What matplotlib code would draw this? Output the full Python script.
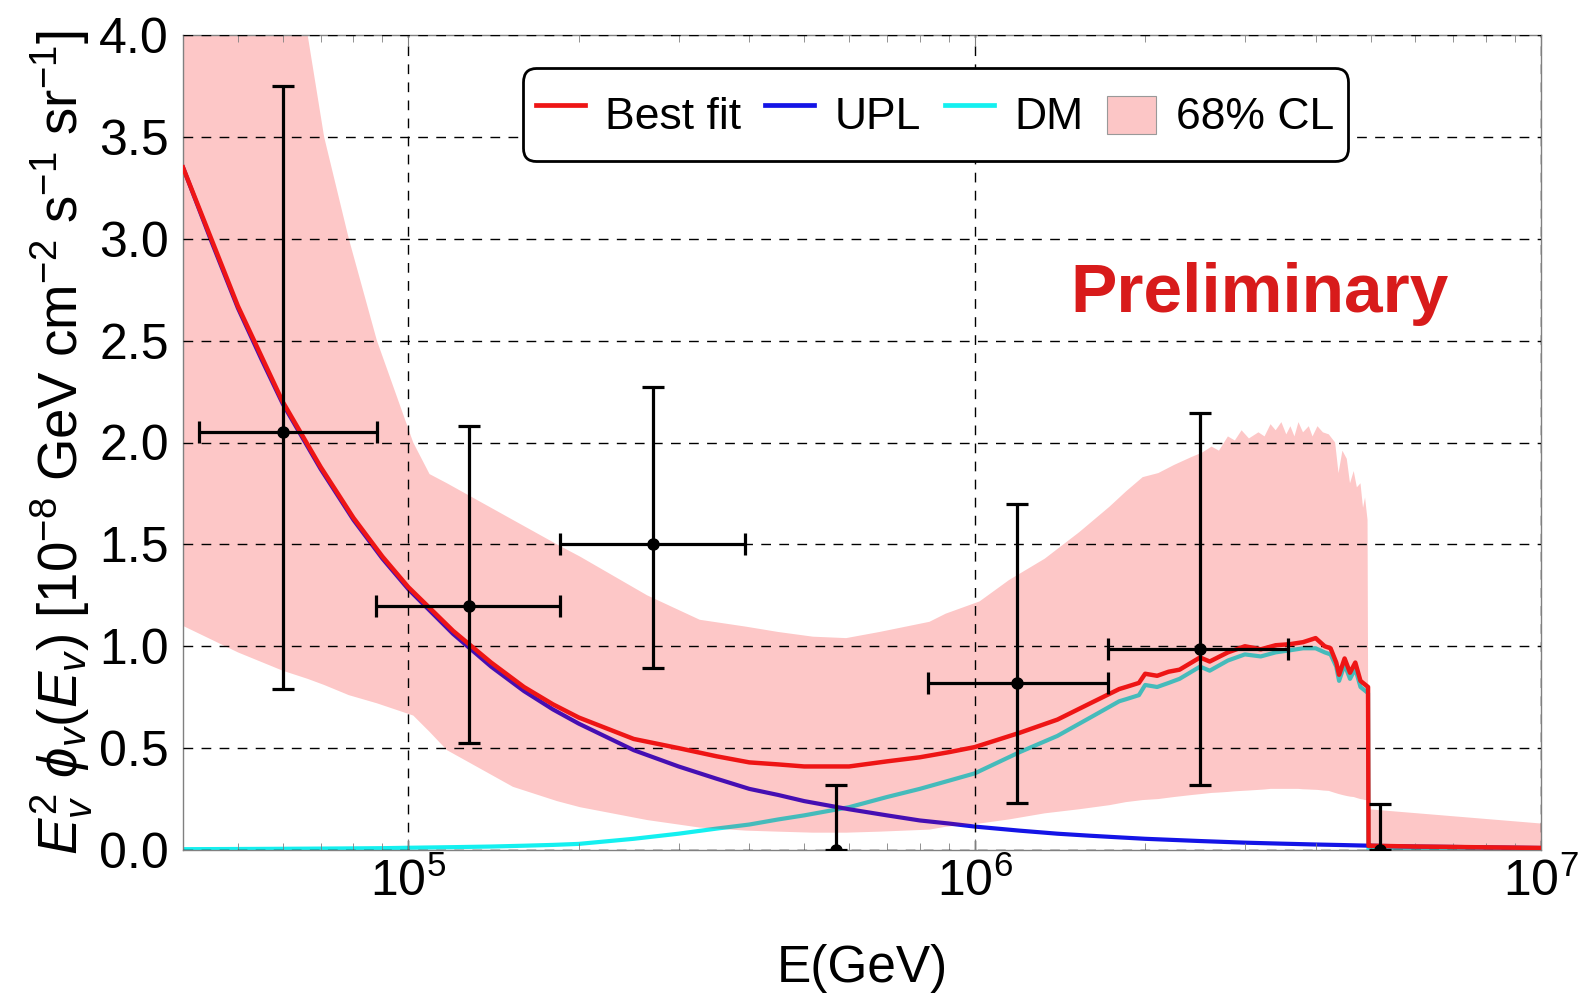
import numpy as np
import matplotlib
matplotlib.use('Agg')
import matplotlib.pyplot as plt
from matplotlib.legend_handler import HandlerPatch
from matplotlib.ticker import FixedLocator, LogLocator, NullFormatter, FormatStrFormatter

plt.rcParams['font.family'] = 'Liberation Sans'
plt.rcParams['mathtext.fontset'] = 'custom'
plt.rcParams['mathtext.rm'] = 'Liberation Sans'
plt.rcParams['mathtext.it'] = 'Liberation Sans:italic'
plt.rcParams['mathtext.bf'] = 'Liberation Sans:bold'

# measured points (E in GeV, flux in 1e-8 GeV cm^-2 s^-1 sr^-1)
pt_e = [6.0e4, 1.28e5, 2.70e5, 1.19e6, 2.50e6]
pt_y = [2.05, 1.20, 1.50, 0.82, 0.985]
pt_lo = [0.79, 0.525, 0.895, 0.23, 0.32]
pt_hi = [3.75, 2.08, 2.27, 1.70, 2.145]
pt_emin = [4.27e4, 8.75e4, 1.85e5, 8.26e5, 1.72e6]
pt_emax = [8.8e4, 1.85e5, 3.93e5, 1.72e6, 3.58e6]

# bins with zero events
ul_e = [5.69e5, 5.19e6]
ul_hi = [0.32, 0.226]

# UPL component
upl_e = [4.0e4, 4.5e4, 5.0e4, 5.5e4, 6.0e4, 7.0e4, 8.0e4, 9.0e4, 1.0e5, 1.2e5,
         1.4e5, 1.6e5, 1.8e5, 2.0e5, 2.5e5, 3.0e5, 3.5e5, 4.0e5, 4.5e5, 5.0e5,
         6.0e5, 7.0e5, 8.0e5, 9.0e5, 1.0e6, 1.2e6, 1.4e6, 1.6e6, 1.8e6, 2.0e6,
         2.5e6, 3.0e6, 3.5e6, 4.0e6, 4.5e6, 5.0e6, 6.0e6, 7.0e6, 8.0e6, 1.0e7]
upl_y = [3.35, 2.98, 2.66, 2.41, 2.19, 1.87, 1.62, 1.43, 1.28, 1.06,
         0.90, 0.78, 0.69, 0.62, 0.49, 0.41, 0.35, 0.30, 0.27, 0.24,
         0.20, 0.17, 0.145, 0.13, 0.115, 0.095, 0.08, 0.07, 0.062, 0.055,
         0.044, 0.036, 0.031, 0.027, 0.024, 0.021, 0.017, 0.015, 0.013, 0.010]

# DM component and best fit (same energies)
fit_e = [4.0e4, 5.0e4, 6.0e4, 7.0e4, 8.0e4, 9.0e4, 1.0e5, 1.2e5, 1.4e5, 1.6e5,
         1.8e5, 2.0e5, 2.5e5, 3.0e5, 3.5e5, 4.0e5, 4.5e5, 5.0e5, 6.0e5, 7.0e5,
         8.0e5, 9.0e5, 1.0e6, 1.2e6, 1.4e6, 1.6e6, 1.8e6, 1.85e6, 1.95e6, 2.0e6,
         2.1e6, 2.2e6, 2.3e6, 2.5e6, 2.6e6, 2.8e6, 3.0e6, 3.2e6, 3.4e6, 3.6e6,
         3.8e6, 4.0e6, 4.15e6, 4.25e6, 4.35e6, 4.4e6, 4.5e6, 4.6e6, 4.7e6, 4.8e6,
         4.9e6, 4.95e6, 4.96e6, 5.0e6, 6.0e6, 7.0e6, 8.0e6, 1.0e7]
dm_y = [0.004, 0.005, 0.006, 0.007, 0.008, 0.009, 0.011, 0.014, 0.017, 0.021,
        0.025, 0.030, 0.055, 0.080, 0.105, 0.125, 0.150, 0.170, 0.210, 0.260,
        0.300, 0.340, 0.376, 0.480, 0.560, 0.650, 0.730, 0.740, 0.760, 0.810,
        0.800, 0.820, 0.840, 0.900, 0.880, 0.930, 0.960, 0.950, 0.970, 0.980,
        0.990, 0.990, 0.970, 0.960, 0.900, 0.830, 0.910, 0.840, 0.890, 0.800,
        0.780, 0.770, 0.0, 0.0, 0.0, 0.0, 0.0, 0.0]
best_y = [3.35, 2.67, 2.20, 1.88, 1.63, 1.44, 1.29, 1.075, 0.92, 0.80,
          0.715, 0.65, 0.545, 0.50, 0.46, 0.43, 0.42, 0.41, 0.41, 0.435,
          0.455, 0.48, 0.505, 0.575, 0.64, 0.72, 0.79, 0.80, 0.82, 0.865,
          0.855, 0.875, 0.885, 0.945, 0.925, 0.97, 1.00, 0.985, 1.005, 1.01,
          1.02, 1.04, 1.00, 0.99, 0.92, 0.86, 0.94, 0.87, 0.92, 0.83,
          0.81, 0.80, 0.02, 0.021, 0.017, 0.015, 0.013, 0.010]

# 68% CL band
band_e = [4.0e4, 5.0e4, 6.0e4, 6.64e4, 7.1e4, 7.85e4, 8.8e4, 1.02e5, 1.09e5, 1.17e5,
          1.53e5, 1.83e5, 2.01e5, 2.64e5, 3.27e5, 3.95e5, 4.5e5, 5.18e5, 5.93e5, 6.79e5,
          8.32e5, 8.89e5, 1.02e6, 1.15e6, 1.33e6, 1.53e6, 1.73e6, 1.85e6, 1.98e6, 2.11e6,
          2.25e6, 2.42e6, 2.52e6, 2.62e6, 2.7e6, 2.8e6, 2.88e6, 2.96e6, 3.05e6, 3.17e6,
          3.25e6, 3.33e6, 3.40e6, 3.48e6, 3.55e6, 3.61e6, 3.67e6, 3.73e6, 3.80e6, 3.89e6,
          3.95e6, 4.03e6, 4.12e6, 4.22e6, 4.33e6, 4.39e6, 4.46e6, 4.54e6, 4.60e6, 4.67e6,
          4.73e6, 4.80e6, 4.85e6, 4.89e6, 4.94e6, 4.96e6, 1.0e7]
band_hi = [7.0, 6.0, 4.8, 4.0, 3.5, 3.0, 2.5, 2.0, 1.845, 1.80,
           1.62, 1.50, 1.44, 1.25, 1.13, 1.096, 1.07, 1.047, 1.04, 1.07,
           1.12, 1.16, 1.22, 1.325, 1.43, 1.56, 1.685, 1.76, 1.83, 1.85,
           1.89, 1.93, 1.95, 1.98, 1.96, 2.03, 2.01, 2.06, 2.02, 2.05,
           2.03, 2.09, 2.06, 2.10, 2.04, 2.08, 2.03, 2.10, 2.05, 2.08,
           2.03, 2.08, 2.05, 2.04, 2.00, 1.85, 1.96, 1.92, 1.80, 1.86,
           1.78, 1.80, 1.68, 1.73, 1.62, 0.20, 0.13]
band_lo = [1.10, 0.97, 0.88, 0.84, 0.81, 0.76, 0.72, 0.66, 0.58, 0.49,
           0.31, 0.24, 0.21, 0.147, 0.11, 0.095, 0.09, 0.085, 0.085, 0.09,
           0.10, 0.114, 0.13, 0.15, 0.18, 0.20, 0.22, 0.235, 0.245, 0.25,
           0.26, 0.27, 0.275, 0.28, 0.282, 0.285, 0.288, 0.29, 0.292, 0.295,
           0.297, 0.30, 0.30, 0.30, 0.30, 0.30, 0.30, 0.30, 0.298, 0.297,
           0.296, 0.295, 0.292, 0.29, 0.28, 0.275, 0.27, 0.265, 0.262, 0.26,
           0.255, 0.25, 0.248, 0.245, 0.245, 0.0, 0.0]

red = '#ee1515'
blue = '#1414e6'
cyan = '#14f0f0'
band_col = (0.97, 0.0, 0.0, 0.22)
band_solid = '#fcc6c6'

fig = plt.figure(figsize=(15.79, 9.94), dpi=100)
ax = fig.add_axes([183/1579, 144/994, 1358/1579, 815/994])

ax.plot(fit_e, dm_y, color=cyan, lw=3.0, zorder=2)
ax.plot(upl_e, upl_y, color=blue, lw=3.0, zorder=2)
ax.fill_between(band_e, band_lo, band_hi, color=band_col, lw=0, zorder=2.2)
ax.plot(fit_e, best_y, color=red, lw=3.2, zorder=3)

# error bars
pt_e = np.array(pt_e)
pt_y = np.array(pt_y)
yerr = [pt_y - np.array(pt_lo), np.array(pt_hi) - pt_y]
xerr = [pt_e - np.array(pt_emin), np.array(pt_emax) - pt_e]
ax.errorbar(pt_e, pt_y, xerr=xerr, yerr=yerr, fmt='o', color='black', ms=8,
            elinewidth=2.3, capsize=8, capthick=2.3, zorder=4)
ax.errorbar(ul_e, [0, 0], yerr=[[0, 0], ul_hi], fmt='o', color='black', ms=8,
            elinewidth=2.3, capsize=8, capthick=2.3, zorder=4)

ax.set_xscale('log')
ax.set_xlim(4.0e4, 1.0e7)
ax.set_ylim(0, 4.0)

ax.xaxis.set_major_locator(FixedLocator([1e5, 1e6, 1e7]))
ax.xaxis.set_minor_locator(LogLocator(base=10, subs=np.arange(2, 10)))
ax.xaxis.set_minor_formatter(NullFormatter())
ax.set_xticklabels([r'$10^{5}$', r'$10^{6}$', r'$10^{7}$'])
ax.yaxis.set_major_locator(FixedLocator(np.arange(0, 4.01, 0.5)))
ax.yaxis.set_major_formatter(FormatStrFormatter('%.1f'))

ax.tick_params(axis='both', which='both', direction='in', color='#808080',
               labelsize=36, top=True, right=True)
ax.tick_params(axis='x', which='major', length=8, pad=6)
ax.tick_params(axis='x', which='minor', length=5)
ax.tick_params(axis='y', which='major', length=0, pad=10)
for s in ax.spines.values():
    s.set_color('#808080')
    s.set_linewidth(1.0)

ax.set_axisbelow(False)
ax.grid(True, which='major', color='black', lw=1.0, linestyle=(0, (7, 6)))

ax.set_xlabel('E(GeV)', fontsize=37)
ax.xaxis.set_label_coords(0.5, -0.146)
ax.xaxis.label.set_va('center')
ax.set_ylabel(r'$E_v^2\ \phi_v(E_v)$ [10$^{-8}$ GeV cm$^{-2}$ s$^{-1}$ sr$^{-1}$]', fontsize=39.3)
ax.yaxis.set_label_coords(-0.089, 0.5)
ax.yaxis.label.set_va('center')

ax.text(0.7927, 0.6605, 'Preliminary', transform=ax.transAxes, ha='center',
        va='baseline', fontsize=50, fontweight='bold', color='#d81b1b', zorder=5)


# legend square is smaller than the row height
def small_box(legend, orig_handle, xdescent, ydescent, width, height, fontsize):
    h = 0.85 * fontsize
    return plt.Rectangle((-xdescent, -ydescent + (height - h) / 2), width, h)


h1, = ax.plot([], [], color=red, lw=3.4)
h2, = ax.plot([], [], color=blue, lw=3.4)
h3, = ax.plot([], [], color=cyan, lw=3.4)
h4 = plt.Rectangle((0, 0), 1, 1, facecolor=band_solid, edgecolor='#999999', lw=0.8)
leg = ax.legend([h1, h2, h3, h4], ['Best fit', 'UPL', 'DM', '68% CL'], ncol=4,
                loc='upper left', bbox_to_anchor=(0.250, 0.959), borderaxespad=0,
                fontsize=32, handlelength=1.1, handletextpad=0.45, columnspacing=0.55,
                handleheight=1.9, borderpad=0.3, fancybox=True, framealpha=1,
                edgecolor='black', handler_map={h4: HandlerPatch(patch_func=small_box)})
leg.get_frame().set_linewidth(2.0)
leg.get_frame().set_boxstyle('round,pad=0.0,rounding_size=0.3')
leg.set_zorder(6)

fig.savefig('out.png', dpi=100)
